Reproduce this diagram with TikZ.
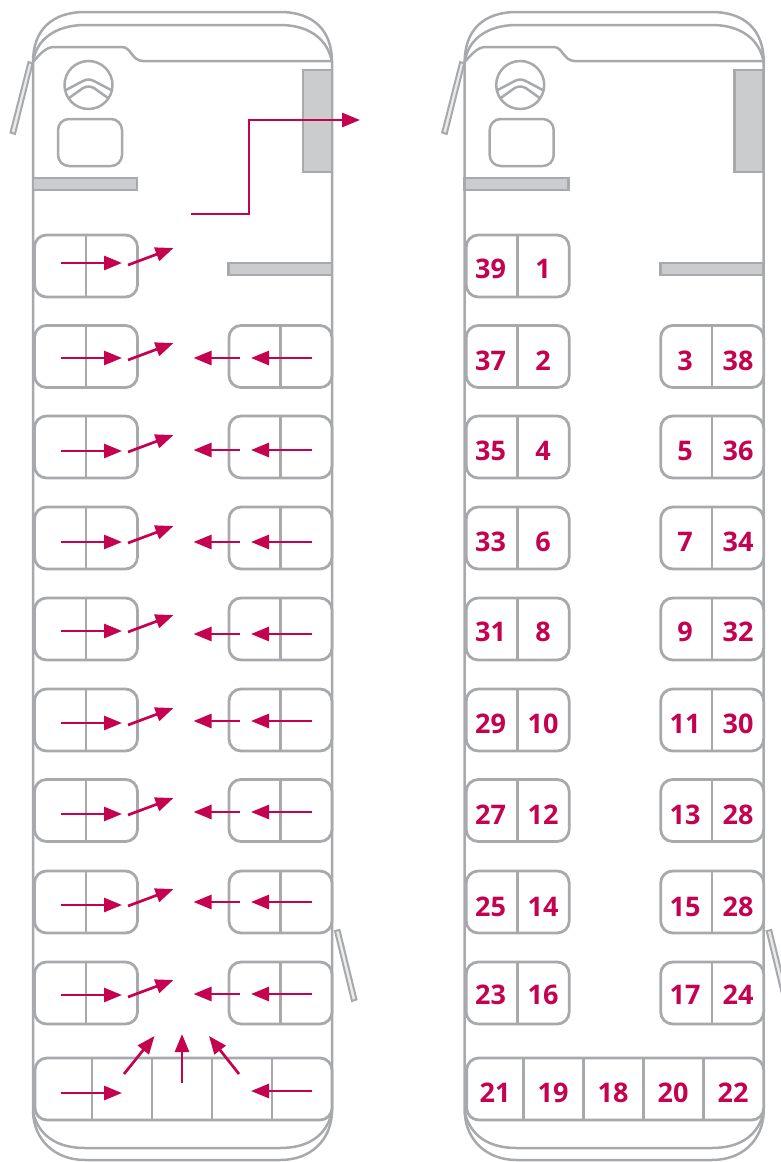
\documentclass[tikz,border=0pt]{standalone}
\usepackage{fontspec}
\setmainfont{Open Sans}
\usetikzlibrary{arrows.meta}
\definecolor{busgray}{HTML}{A7A9AC}
\definecolor{panelgray}{HTML}{CBCCCE}
\definecolor{crimson}{HTML}{C4024F}
\tikzset{
  shell/.style={draw=busgray,line width=2.5pt,line join=round},
  panel/.style={draw=busgray,fill=panelgray,line width=2.8pt},
  seatpair/.style={draw=busgray,fill=white,line width=2.8pt,rounded corners=12pt,inner sep=0pt,minimum width=103pt,minimum height=62pt},
  backrow/.style={draw=busgray,fill=white,line width=2.8pt,rounded corners=12pt,inner sep=0pt,minimum width=297pt,minimum height=62pt},
  divider/.style={draw=busgray,line width=2.5pt},
  flow/.style={draw=crimson,line width=2.7pt,-{Triangle[length=18pt,width=14pt,fill=crimson]}},
  seatno/.style={text=crimson,font=\fontsize{27}{27}\selectfont\bfseries,inner sep=0pt,anchor=center},
  busbody/.pic={
    \draw[shell] (33,62) .. controls (33,30) and (52,12) .. (85,12) -- (280,12) .. controls (313,12) and (332,30) .. (332,62);
    \draw[shell] (33,62) .. controls (36,40) and (55,25) .. (85,25) -- (280,25) .. controls (310,25) and (328,40) .. (332,62);
    \draw[shell] (33,62) .. controls (40,54) and (46,47) .. (54,47) -- (122,47) .. controls (131,47) and (132,61) .. (143,61) -- (332,61);
    \draw[shell] (33,62) -- (33,1112) .. controls (34,1140) and (55,1160) .. (85,1160) -- (280,1160) .. controls (311,1160) and (331,1140) .. (332,1112) -- (332,62);
    \draw[shell] (33,1112) .. controls (38,1134) and (55,1148) .. (85,1148) -- (280,1148) .. controls (310,1148) and (327,1134) .. (332,1112);
    \draw[draw=busgray,fill=panelgray!40,line width=2pt] (28.5,62) -- (32.5,63.5) -- (15,134) -- (10.5,132.5) -- cycle;
    \draw[draw=busgray,fill=panelgray!40,line width=2pt] (335,931) -- (339.5,930) -- (356.5,999.5) -- (352,1001) -- cycle;
    \draw[shell] (88.5,85) circle (24);
    \draw[shell] (66,90) -- (83,81) .. controls (87,79) and (90,79) .. (94,81) -- (111,90);
    \draw[shell] (69,98) -- (83,88) .. controls (87,86) and (90,86) .. (94,88) -- (108,98);
    \draw[shell,rounded corners=11pt] (58,119) rectangle (122,166);
    \draw[panel] (33,178) rectangle (137,190);
    \draw[panel] (303,70) rectangle (332,172);
    \draw[panel] (228.5,263) rectangle (332,275);
    \node[seatpair] (s1) at (86,266) {};
    \draw[divider] (s1.north) -- (s1.south);
    \foreach \n/\cy in {2/356.5,3/447,4/538,5/629,6/720,7/810.5,8/902,9/993}{
      \node[seatpair] (l\n) at (86,\cy) {};
      \draw[divider] (l\n.north) -- (l\n.south);
      \node[seatpair] (r\n) at (280.5,\cy) {};
      \draw[divider] (r\n.north) -- (r\n.south);
    }
    \node[backrow] (back) at (183.5,1089) {};
    \foreach \dx in {92,152,212,272}{
      \draw[divider] (\dx,1058) -- (\dx,1120);
    }
  }
}
\begin{document}
\begin{tikzpicture}[x=1pt,y=-1pt]
\useasboundingbox (0,0) rectangle (781,1162);
\clip (0,0) rectangle (781,1162);
\pic (L) at (0,0) {busbody};
\pic (R) at (431.7,0) {busbody};
% boarding flows, left plan
\coordinate (e0) at (191,214);
\coordinate (e1) at (249,214);
\coordinate (e2) at (249,120);
\coordinate (e3) at (360,120);
\draw[flow] (e0) -- (e1) -- (e2) -- (e3);
\foreach \i/\la/\dg in {1/263/248,2/358/343,3/451/435,4/542/526,5/631/615,6/723/708,7/814/798,8/905/889,9/995/980}{
  \coordinate (a\i) at (61,\la);
  \coordinate (b\i) at (122,\la);
  \coordinate (c\i) at (128,\dg+17);
  \coordinate (d\i) at (173.5,\dg);
  \draw[flow] (a\i) -- (b\i);
  \draw[flow] (c\i) -- (d\i);
}
\foreach \i/\ra in {2/358,3/450,4/542,5/634,6/721,7/812,8/902,9/994}{
  \coordinate (p\i) at (312,\ra);
  \coordinate (q\i) at (251,\ra);
  \coordinate (t\i) at (240,\ra);
  \coordinate (u\i) at (193.5,\ra);
  \draw[flow] (p\i) -- (q\i);
  \draw[flow] (t\i) -- (u\i);
}
\coordinate (f1) at (61,1093);
\coordinate (f2) at (122,1093);
\draw[flow] (f1) -- (f2);
\coordinate (g1) at (124,1074);
\coordinate (g2) at (154.5,1036);
\draw[flow] (g1) -- (g2);
\coordinate (h1) at (182,1083);
\coordinate (h2) at (182,1034);
\draw[flow] (h1) -- (h2);
\coordinate (i1) at (239,1074);
\coordinate (i2) at (209,1036);
\draw[flow] (i1) -- (i2);
\coordinate (j1) at (312,1091);
\coordinate (j2) at (251,1091);
\draw[flow] (j1) -- (j2);
% seat numbers, right plan
\node[seatno] (n39) at (490.5,269) {39};
\node[seatno] (n1) at (543,269) {1};
\foreach \a/\b/\c/\d/\y in {37/2/3/38/361,35/4/5/36/451,33/6/7/34/542,31/8/9/32/632,29/10/11/30/724,27/12/13/28/815,25/14/15/28/907,23/16/17/24/995}{
  \node[seatno] (na\a) at (490.5,\y) {\a};
  \node[seatno] (nb\b) at (543,\y) {\b};
  \node[seatno] (nc\c) at (685,\y) {\c};
  \node[seatno] (nd\d\y) at (738,\y) {\d};
}
\foreach \v/\x in {21/495,19/553,18/613,20/673,22/733}{
  \node[seatno] (ne\v) at (\x,1093) {\v};
}
\end{tikzpicture}
\end{document}
